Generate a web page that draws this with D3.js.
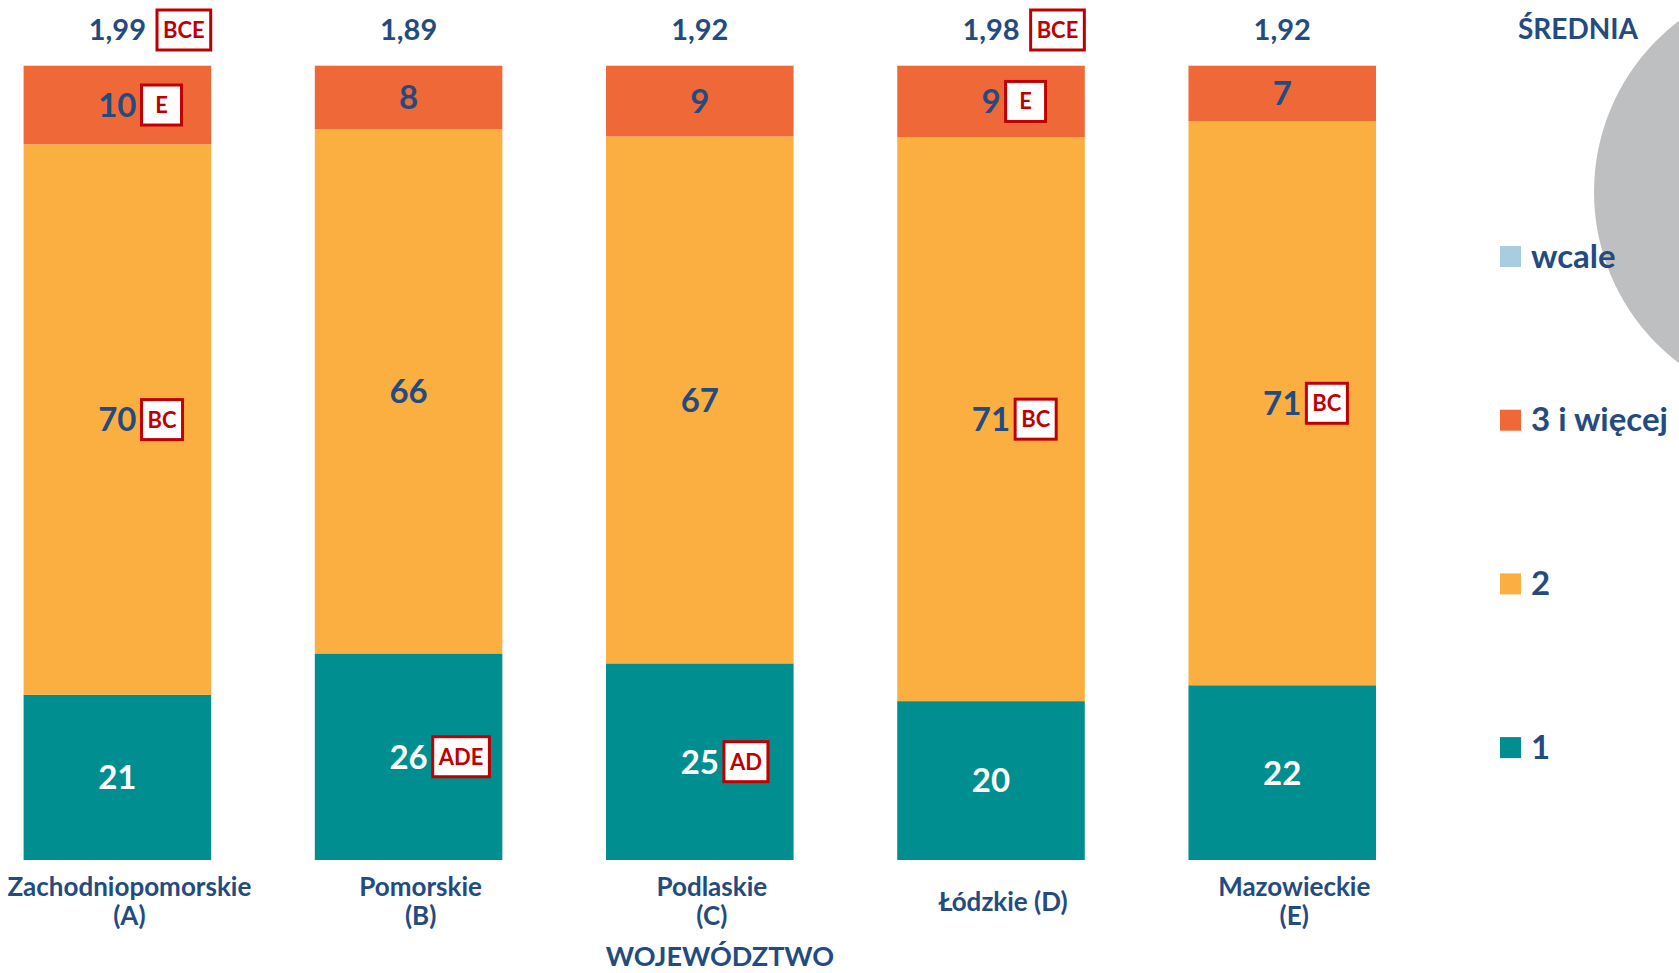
<!DOCTYPE html>
<html>
<head>
<meta charset="utf-8">
<script src="https://cdn.jsdelivr.net/npm/d3@7"></script>
<style>
  body { margin: 0; background: #fff; }
  svg { display: block; }
  text { font-family: Lato, "Open Sans", sans-serif; font-weight: bold; }
</style>
</head>
<body>
<div id="chart"></div>
<script>
const width = 1679;
const height = 973;

// data
const regions = ["Zachodniopomorskie\n(A)", "Pomorskie\n(B)", "Podlaskie\n(C)", "Łódzkie (D)", "Mazowieckie\n(E)"];
const seriesNames = ["1", "2", "3 i więcej", "wcale"];
const one = [21, 26, 25, 20, 22];
const two = [70, 66, 67, 71, 71];
const threePlus = [10, 8, 9, 9, 7];
const notAtAll = [0, 0, 0, 0, 0];
const means = ["1,99", "1,89", "1,92", "1,98", "1,92"];
const meanSig = ["BCE", "", "", "BCE", ""];
const sigOne = ["", "ADE", "AD", "", ""];
const sigTwo = ["BC", "", "", "BC", "BC"];
const sigThree = ["E", "", "", "E", ""];

const colors = { "1": "#008E91", "2": "#FBAF41", "3 i więcej": "#EE6838", "wcale": "#A9CCE0" };
const darkBlue = "#244B80";
const red = "#C00000";

const rows = regions.map((r, i) => ({
    region: r,
    "1": one[i], "2": two[i], "3 i więcej": threePlus[i], "wcale": notAtAll[i],
    sig: { "1": sigOne[i], "2": sigTwo[i], "3 i więcej": sigThree[i], "wcale": "" }
}));

const stack = d3.stack().keys(seriesNames).offset(d3.stackOffsetExpand);
const series = stack(rows);

const x = d3.scaleBand()
    .domain(regions)
    .range([23.6, 1376])
    .paddingInner(0.356)
    .paddingOuter(0);

const y = d3.scaleLinear()
    .domain([0, 1])
    .range([860, 65.7]);

const svg = d3.select("#chart")
    .append("svg")
        .attr("width", width)
        .attr("height", height)
        .attr("viewBox", [0, 0, width, height]);

// grey circle behind the legend
svg.append("circle")
    .attr("cx", 1809)
    .attr("cy", 192)
    .attr("r", 215)
    .attr("fill", "#BEBFC1");

// bars
svg.append("g").selectAll("g")
    .data(series)
    .enter().append("g")
        .attr("fill", d => colors[d.key])
    .selectAll("rect")
    .data(d => d)
    .enter().append("rect")
        .attr("x", d => x(d.data.region))
        .attr("y", d => y(d[1]))
        .attr("width", x.bandwidth())
        .attr("height", d => y(d[0]) - y(d[1]));

function addBox(g, txt, xLeft, cy, fontSize, minW) {
    const t = g.append("text")
        .attr("fill", red)
        .style("font-size", fontSize + "px")
        .attr("text-anchor", "middle")
        .attr("dy", "0.36em")
        .text(txt);
    const w = Math.max(minW, t.node().getComputedTextLength() + 12);
    g.insert("rect", "text")
        .attr("x", xLeft)
        .attr("y", cy - 20)
        .attr("width", w)
        .attr("height", 40)
        .attr("fill", "#fff")
        .attr("stroke", red)
        .attr("stroke-width", 3);
    t.attr("x", xLeft + w / 2).attr("y", cy);
}

// segment labels
series.filter(s => s.key !== "wcale").forEach(s => {
    s.forEach(d => {
        const v = d.data[s.key];
        const cx = x(d.data.region) + x.bandwidth() / 2;
        const cy = (y(d[0]) + y(d[1])) / 2;
        const g = svg.append("g");
        const num = g.append("text")
            .attr("x", cx)
            .attr("y", cy)
            .attr("dy", "0.36em")
            .attr("text-anchor", "middle")
            .attr("fill", s.key === "1" ? "#fff" : darkBlue)
            .style("font-size", "33px")
            .text(v);
        const sig = d.data.sig[s.key];
        if (sig) {
            const w = num.node().getComputedTextLength();
            addBox(g, sig, cx + w / 2 + 5, cy, 22, 40);
        }
    });
});

// means above bars
regions.forEach((r, i) => {
    const cx = x(r) + x.bandwidth() / 2;
    const g = svg.append("g");
    const t = g.append("text")
        .attr("x", cx)
        .attr("y", 30)
        .attr("dy", "0.36em")
        .attr("text-anchor", "middle")
        .attr("fill", darkBlue)
        .style("font-size", "29px")
        .text(means[i]);
    if (meanSig[i]) {
        const w = t.node().getComputedTextLength();
        addBox(g, meanSig[i], cx + w / 2 + 11, 30, 22, 40);
    }
});

// category axis
const xAxis = svg.append("g")
    .attr("transform", "translate(0,860)")
    .call(d3.axisBottom(x).tickSize(0));
xAxis.select(".domain").remove();
xAxis.selectAll(".tick text").each(function(d) {
    const lines = d.split("\n");
    const t = d3.select(this)
        .text(null)
        .attr("fill", darkBlue)
        .attr("y", 0)
        .attr("dy", null)
        .style("font-size", "26px")
        .style("font-family", "Lato, sans-serif");
    const top = lines.length === 1 ? 51 : 36;
    lines.forEach((line, j) => {
        t.append("tspan")
            .attr("x", 12)
            .attr("y", top + j * 29)
            .text(line);
    });
});

svg.append("text")
    .attr("x", 720)
    .attr("y", 966)
    .attr("text-anchor", "middle")
    .attr("fill", darkBlue)
    .style("font-size", "27px")
    .text("WOJEWÓDZTWO");

svg.append("text")
    .attr("x", 1578)
    .attr("y", 39)
    .attr("text-anchor", "middle")
    .attr("fill", darkBlue)
    .style("font-size", "28px")
    .text("ŚREDNIA");

// legend
const legendKeys = seriesNames.slice().reverse();
const legend = svg.append("g").selectAll("g")
    .data(legendKeys)
    .enter().append("g")
        .attr("transform", (d, i) => "translate(1500," + (256.5 + i * 163.7) + ")");
legend.append("rect")
    .attr("x", 0)
    .attr("y", -10.5)
    .attr("width", 21)
    .attr("height", 21)
    .attr("fill", d => colors[d]);
legend.append("text")
    .attr("x", 31)
    .attr("y", 11)
    .attr("fill", darkBlue)
    .style("font-size", "33px")
    .text(d => d);
</script>
</body>
</html>
